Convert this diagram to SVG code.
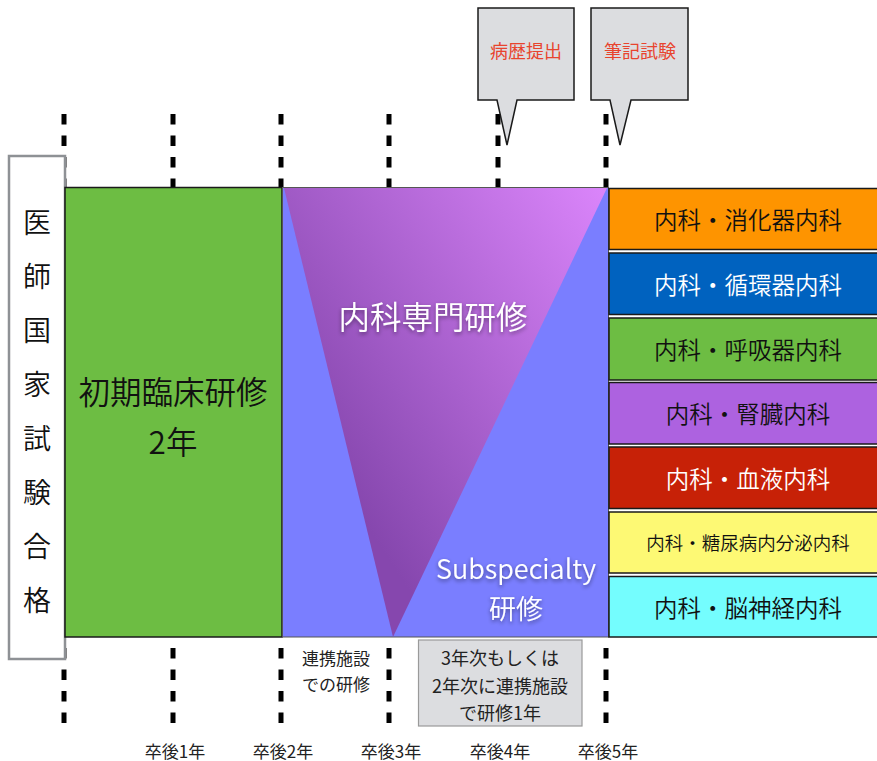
<svg xmlns="http://www.w3.org/2000/svg" width="877" height="761" viewBox="0 0 877 761">
<defs>
<linearGradient id="tri" x1="284" y1="400" x2="607" y2="188" gradientUnits="userSpaceOnUse">
<stop offset="0" stop-color="#8647ae"/>
<stop offset="1" stop-color="#db85fb"/>
</linearGradient>
<filter id="sh" x="-10%" y="-30%" width="120%" height="160%">
<feDropShadow dx="0" dy="2" stdDeviation="2" flood-color="#000" flood-opacity="0.45"/>
</filter>
<style>
text{font-family:"Noto Sans CJK JP","Noto Sans",sans-serif;font-weight:350;text-anchor:middle;dominant-baseline:central}
.dash{stroke:#000;stroke-width:5;stroke-dasharray:10.5 11;fill:none}
.spec{stroke:#1a1a1a;stroke-width:1.5}
.t23{font-size:23.5px;fill:#111}
.w{fill:#fff}
.call{fill:#dcdde0;stroke:#1a1a1a;stroke-width:1.5}
.ct{font-size:18px;fill:#e8442e;font-weight:400}
.lbl{font-size:17px;fill:#222;font-weight:400}
</style>
</defs>
<rect width="877" height="761" fill="#fff"/>

<g id="timeline">
<path class="dash" d="M64 114V187M173 114V187M281 114V187M389 114V187M498 114V187M606 114V187"/>
<path class="dash" d="M64 648V724M173 648V724M281 648V724M389 648V724M606 648V724"/>
</g>

<g id="kokushi">
<rect x="9" y="156" width="56" height="503" fill="#fff" stroke="#8e9195" stroke-width="2.5"/>
<g font-size="28" fill="#111">
<text x="37" y="221">医</text>
<text x="37" y="275">師</text>
<text x="37" y="329">国</text>
<text x="37" y="383">家</text>
<text x="37" y="437">試</text>
<text x="37" y="491">験</text>
<text x="37" y="545">合</text>
<text x="37" y="599">格</text>
</g>
</g>

<g id="shoki">
<rect x="65" y="187.5" width="217" height="449.5" fill="#6dbd43" stroke="#1a1a1a" stroke-width="1.5"/>
<text x="173" y="390" font-size="31.5" fill="#111">初期臨床研修</text>
<text x="173" y="440" font-size="31.5" fill="#111">2年</text>
</g>

<g id="senmon">
<rect x="282.5" y="187.5" width="326" height="449.5" fill="#7a7eff" stroke="#555" stroke-width="1"/>
<polygon points="284,188 607,188 393,637" fill="url(#tri)"/>
<text x="433" y="315" font-size="31.5" class="w" filter="url(#sh)">内科専門研修</text>
</g>

<g id="subspecialty">
<text x="516" y="567" font-size="27" class="w" filter="url(#sh)">Subspecialty</text>
<text x="516" y="607" font-size="27" class="w" filter="url(#sh)">研修</text>
</g>

<g id="shoukaki"><rect class="spec" x="609" y="188.5" width="270" height="61" fill="#fe9400"/><text class="t23" x="748" y="219">内科・消化器内科</text></g>
<g id="junkanki"><rect class="spec" x="609" y="253" width="270" height="61.5" fill="#0062bf"/><text class="t23 w" x="748" y="284">内科・循環器内科</text></g>
<g id="kokyuki"><rect class="spec" x="609" y="318" width="270" height="62" fill="#6dbd43"/><text class="t23" x="748" y="349">内科・呼吸器内科</text></g>
<g id="jinzou"><rect class="spec" x="609" y="382.5" width="270" height="61.5" fill="#ad62e0"/><text class="t23" x="748" y="413">内科・腎臓内科</text></g>
<g id="ketsueki"><rect class="spec" x="609" y="447" width="270" height="61.5" fill="#c72107"/><text class="t23 w" x="748" y="478">内科・血液内科</text></g>
<g id="tounyou"><rect class="spec" x="609" y="512" width="270" height="61" fill="#fdf974"/><text x="748" y="542" font-size="18.5" fill="#111">内科・糖尿病内分泌内科</text></g>
<g id="shinkei"><rect class="spec" x="609" y="576.5" width="270" height="60.5" fill="#74fdfe"/><text class="t23" x="748" y="607">内科・脳神経内科</text></g>

<g id="byoreki">
<path class="call" d="M478 8H574V100H517L507 145L497 100H478Z"/>
<text class="ct" x="526" y="50">病歴提出</text>
</g>
<g id="hikki">
<path class="call" d="M591 8H688V100H631L620 145L610 100H591Z"/>
<text class="ct" x="640" y="50">筆記試験</text>
</g>

<g id="renkei">
<text class="lbl" x="336" y="657">連携施設</text>
<text class="lbl" x="336" y="683">での研修</text>
</g>

<g id="note">
<rect x="418.5" y="640" width="163.5" height="86" fill="#dcdde0" stroke="#9a9a9a" stroke-width="1.2"/>
<text class="lbl" x="500" y="657" font-size="18" style="font-size:18px">3年次もしくは</text>
<text class="lbl" x="500" y="685" style="font-size:18px">2年次に連携施設</text>
<text class="lbl" x="500" y="712" style="font-size:18px">で研修1年</text>
</g>

<g id="years">
<text class="lbl" x="175" y="750">卒後1年</text>
<text class="lbl" x="283" y="750">卒後2年</text>
<text class="lbl" x="391" y="750">卒後3年</text>
<text class="lbl" x="500" y="750">卒後4年</text>
<text class="lbl" x="608" y="750">卒後5年</text>
</g>
</svg>
